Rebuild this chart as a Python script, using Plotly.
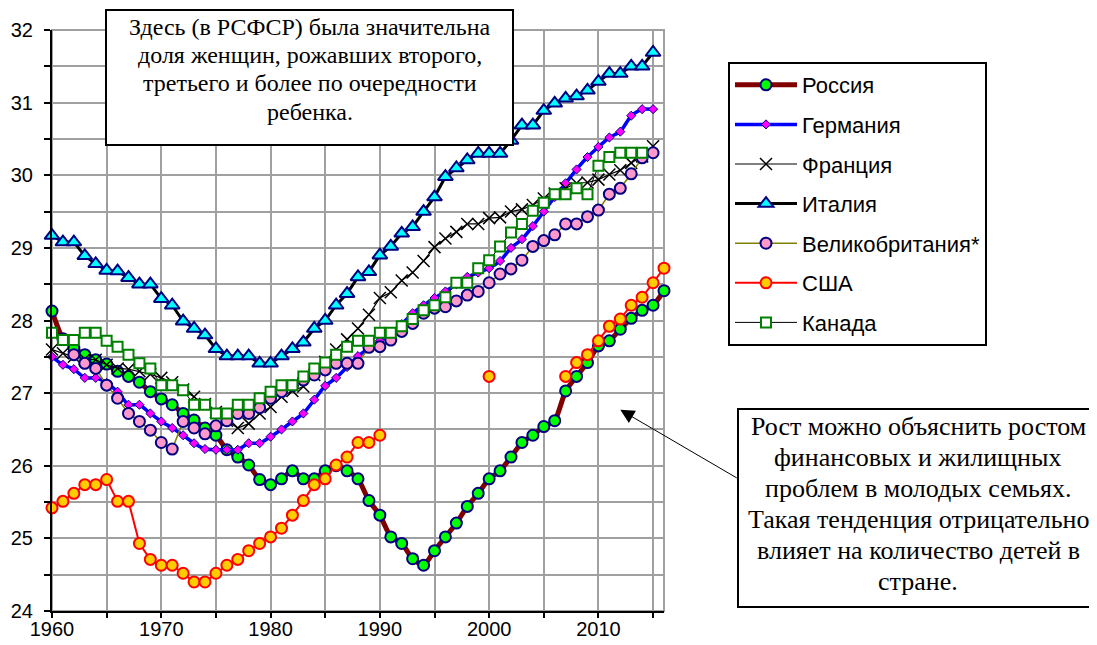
import plotly.graph_objects as go

years = list(range(1960, 2017))

russia = [28.13, 27.75, 27.62, 27.53, 27.46, 27.40, 27.30, 27.23, 27.15, 27.02,
          26.92, 26.84, 26.72, 26.63, 26.52, 26.42, 26.22, 26.12, 26.01, 25.81,
          25.74, 25.82, 25.93, 25.82, 25.82, 25.93, 26.00, 25.93, 25.82, 25.52,
          25.32, 25.02, 24.93, 24.72, 24.63, 24.83, 25.02, 25.21, 25.44, 25.62,
          25.82, 25.93, 26.12, 26.32, 26.42, 26.54, 26.62, 27.03, 27.23, 27.42,
          27.65, 27.72, 27.88, 28.03, 28.14, 28.21, 28.41]

germany = [27.50, 27.39, 27.33, 27.21, 27.21, 27.14, 27.02, 26.84, 26.84, 26.72,
           26.61, 26.52, 26.42, 26.31, 26.23, 26.22, 26.22, 26.22, 26.31, 26.31,
           26.40, 26.50, 26.61, 26.72, 26.91, 27.10, 27.21, 27.36, 27.51, 27.62,
           27.72, 27.83, 27.95, 28.10, 28.21, 28.31, 28.40, 28.50, 28.60, 28.66,
           28.72, 28.82, 29.00, 29.12, 29.30, 29.50, 29.70, 29.89, 30.08, 30.25,
           30.39, 30.52, 30.60, 30.82, 30.91, 30.91, None]

france = [27.60, 27.55, 27.50, 27.47, 27.46, 27.39, 27.34, 27.33, 27.30, 27.26,
          27.21, 27.15, 27.05, 26.95, 26.85, 26.74, 26.62, 26.52, 26.58, 26.72,
          26.81, 26.95, 27.03, 27.09, 27.25, 27.43, 27.60, 27.74, 27.89, 28.08,
          28.31, 28.39, 28.55, 28.66, 28.82, 29.01, 29.13, 29.22, 29.33, 29.33,
          29.41, 29.42, 29.50, 29.53, 29.59, 29.68, 29.75, 29.82, 29.89, 29.90,
          29.94, 30.01, 30.07, 30.17, 30.26, 30.40, None]

italy = [29.17, 29.08, 29.08, 28.89, 28.78, 28.69, 28.68, 28.59, 28.50, 28.50,
         28.30, 28.21, 27.99, 27.89, 27.80, 27.61, 27.51, 27.51, 27.51, 27.41,
         27.41, 27.51, 27.61, 27.70, 27.89, 28.00, 28.21, 28.37, 28.60, 28.67,
         28.90, 29.02, 29.20, 29.29, 29.50, 29.70, 29.98, 30.10, 30.21, 30.30,
         30.30, 30.30, 30.48, 30.69, 30.69, 30.89, 30.99, 31.06, 31.09, 31.17,
         31.29, 31.40, 31.40, 31.50, 31.50, 31.69, None]

uk = [None, None, 27.53, 27.41, 27.34, 27.11, 26.93, 26.72, 26.61, 26.49,
      26.32, 26.23, 26.61, 26.52, 26.44, 26.55, 26.62, 26.72, 26.72, 26.80,
      26.93, 27.02, 27.10, 27.18, 27.25, 27.32, 27.41, 27.41, 27.41, 27.63,
      27.64, 27.73, 27.85, 27.96, 28.10, 28.17, 28.19, 28.27, 28.35, 28.40,
      28.52, 28.64, 28.71, 28.83, 29.02, 29.10, 29.18, 29.33, 29.33, 29.43,
      29.52, 29.74, 29.82, 30.02, 30.24, 30.31, None]

usa = [25.42, 25.51, 25.62, 25.74, 25.74, 25.81, 25.51, 25.51, 24.93, 24.71,
       24.63, 24.63, 24.52, 24.40, 24.40, 24.52, 24.63, 24.71, 24.83, 24.93,
       25.02, 25.14, 25.32, 25.52, 25.74, 25.82, 26.01, 26.12, 26.32, 26.32,
       26.42, None, None, None, None, None, None, None, None, None,
       27.23, None, None, None, None, None, None, 27.23, 27.42, 27.53,
       27.72, 27.92, 28.02, 28.21, 28.32, 28.52, 28.72]

canada = [27.83, 27.73, 27.73, 27.83, 27.83, 27.72, 27.64, 27.53, 27.41, 27.34,
          27.11, 27.11, 27.04, 26.84, 26.84, 26.72, 26.72, 26.84, 26.84, 26.93,
          27.02, 27.11, 27.11, 27.23, 27.34, 27.42, 27.53, 27.64, 27.72, 27.72,
          27.83, 27.83, 27.92, 28.02, 28.14, 28.21, 28.32, 28.52, 28.52, 28.72,
          28.83, 29.02, 29.21, 29.33, 29.51, 29.62, 29.74, 29.74, 29.82, 29.74,
          30.13, 30.25, 30.31, 30.31, 30.31, None, None]

names = ["Россия", "Германия", "Франция", "Италия", "Великобритания*", "США", "Канада"]

note_top = ["Здесь (в РСФСР) была значительна",
            "доля женщин, рожавших второго,",
            "третьего и более по очередности",
            "ребенка."]
note_bottom = ["Рост можно объяснить ростом",
               "финансовых и жилищных",
               "проблем в молодых семьях.",
               "Такая тенденция отрицательно",
               "влияет на количество детей в",
               "стране."]

NAVY = "#000080"
fig = go.Figure()

def add(y, name, line, marker, shape="linear"):
    fig.add_trace(go.Scatter(
        x=years, y=y, name=name, legendgroup=name, mode="lines+markers",
        line=dict(shape=shape, **line), marker=marker,
        connectgaps=False, cliponaxis=False))

add(russia, names[0], dict(color="#800000", width=5, smoothing=0.6),
    dict(symbol="circle", size=11, color="#00ff00", line=dict(color=NAVY, width=2)), "spline")
add(germany, names[1], dict(color="#0000ff", width=3.5, smoothing=0.5),
    dict(symbol="diamond", size=7, color="#ff00ff", line=dict(color=NAVY, width=1)), "spline")
add(france, names[2], dict(color="#000000", width=1.2),
    dict(symbol="x-thin", size=12, color="#000000", line=dict(color="#000000", width=1.5)))
add(italy, names[3], dict(color="#000000", width=3),
    dict(symbol="triangle-up", size=13, color="#00ffff", line=dict(color=NAVY, width=2)))
add(uk, names[4], dict(color="#808000", width=1.5),
    dict(symbol="circle", size=11, color="#ff99cc", line=dict(color=NAVY, width=2)))
add(usa, names[5], dict(color="#ff0000", width=2),
    dict(symbol="circle", size=11, color="#ffcc00", line=dict(color="#ff0000", width=2)))
add(canada, names[6], dict(color="#000000", width=1),
    dict(symbol="square", size=10, color="#ffffff", line=dict(color="#008000", width=2)))

GRID = "#a0a0a0"
tickfont = dict(family="Arial, Liberation Sans, sans-serif", size=20, color="#000000")

fig.update_xaxes(range=[1960, 2016], tick0=1960, dtick=10, showgrid=True, gridcolor=GRID,
                 gridwidth=2, ticks="outside", ticklen=5, tickwidth=2, tickcolor="#000000",
                 showline=True, linecolor="#000000", linewidth=2, zeroline=False,
                 tickfont=tickfont, ticklabelstandoff=-6,
                 minor=dict(dtick=5, tick0=1960, showgrid=True, gridcolor=GRID, gridwidth=2,
                            ticks="outside", ticklen=5, tickwidth=2, tickcolor="#000000"))
fig.update_yaxes(range=[24, 32], tick0=24, dtick=1, showgrid=True, gridcolor=GRID,
                 gridwidth=2, ticks="outside", ticklen=6, tickwidth=2, tickcolor="#000000",
                 showline=True, linecolor="#000000", linewidth=2, zeroline=False,
                 tickfont=tickfont, ticklabelstandoff=7,
                 minor=dict(dtick=0.5, tick0=24, showgrid=True, gridcolor=GRID, gridwidth=2,
                            ticks="outside", ticklen=6, tickwidth=2, tickcolor="#000000"))

# page body adds an 8px offset; figure is laid out in reference pixels minus 8
OFF = 8
W, H = 1097 - OFF, 645 - OFF
L, T = 52 - OFF, 30 - OFF
PW = 664 - 52
PH = 611 - 30
R = W - L - PW
B = H - T - PH

def px(x):
    return (x - OFF - L) / PW

def py(y):
    return (T + PH - (y - OFF)) / PH

shapes = [
    dict(type="rect", xref="paper", yref="paper", x0=0, x1=1, y0=0, y1=1,
         line=dict(color=GRID, width=2), layer="below"),
    dict(type="rect", xref="paper", yref="paper", x0=px(106), x1=px(513), y0=py(145), y1=py(10),
         line=dict(color="#000000", width=2), fillcolor="#ffffff", layer="above"),
    dict(type="rect", xref="paper", yref="paper", x0=px(738), x1=px(1110), y0=py(607), y1=py(409),
         line=dict(color="#000000", width=2), fillcolor="#ffffff", layer="above"),
]

serif = dict(family="Times New Roman, Liberation Serif, serif", size=24, color="#000000")
serif2 = dict(family="Times New Roman, Liberation Serif, serif", size=26, color="#000000")
annotations = []
for i, t in enumerate(note_top):
    annotations.append(dict(xref="paper", yref="paper", x=px(309.5), y=py(27 + 28.2 * i),
                            text=t, showarrow=False, xanchor="center", yanchor="middle",
                            font=serif))
for i, t in enumerate(note_bottom):
    annotations.append(dict(xref="paper", yref="paper", x=px(918), y=py(427 + 30.8 * i),
                            text=t, showarrow=False, xanchor="center", yanchor="middle",
                            font=serif2))
annotations.append(dict(x=2012.0, y=26.77, xref="x", yref="y", text="", showarrow=True,
                        ax=118, ay=69, axref="pixel", ayref="pixel",
                        arrowhead=2, arrowsize=2.8, arrowwidth=1, arrowcolor="#000000",
                        standoff=0, startstandoff=0))

fig.update_layout(
    width=W, height=H,
    margin=dict(l=L, r=R, t=T, b=B, autoexpand=False),
    paper_bgcolor="#ffffff", plot_bgcolor="#ffffff",
    shapes=shapes, annotations=annotations,
    showlegend=True,
    legend=dict(x=px(728), y=py(62), xanchor="left", yanchor="top",
                bordercolor="#000000", borderwidth=2, bgcolor="#ffffff",
                font=dict(family="Arial, Liberation Sans, sans-serif", size=22, color="#000000"),
                itemwidth=62, tracegroupgap=8, traceorder="grouped"),
)

fig.write_html("out.html")
